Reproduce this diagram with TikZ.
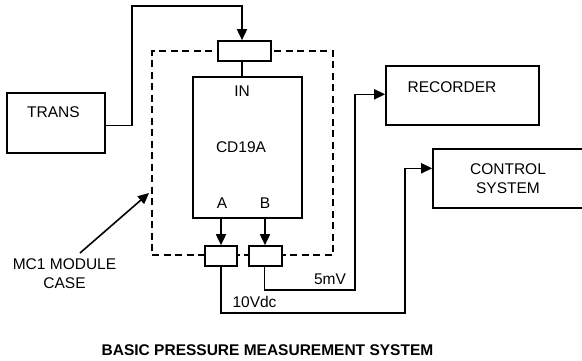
\documentclass[tikz,border=0pt]{standalone}
\usepackage{fontspec}
\setmainfont{Liberation Sans}
\usetikzlibrary{arrows.meta}
\begin{document}
\begin{tikzpicture}[x=1pt,y=-1pt,line width=1.6pt,
  box/.style={draw,fill=white,inner sep=0pt},
  txt/.style={inner sep=0pt,font=\fontsize{15.5}{18}\selectfont},
  arr/.style={-{Triangle[length=11pt,width=10pt]}},
  casebox/.style={draw,dash pattern=on 7pt off 4.5pt,inner sep=0pt}]
\useasboundingbox (0,0) rectangle (582,360);
\clip (0,0) rectangle (582,360);
% dashed module case
\node[casebox,minimum width=181pt,minimum height=204pt] (case) at (242.5,153) {};
% boxes
\node[box,minimum width=98pt,minimum height=60pt] (trans) at (56,123) {};
\node[box,minimum width=53pt,minimum height=20pt] (inbox) at (244.5,51) {};
\node[box,minimum width=109pt,minimum height=141pt] (cd) at (247.5,147.5) {};
\node[box,minimum width=32pt,minimum height=20pt] (boxa) at (221,256) {};
\node[box,minimum width=33pt,minimum height=20pt] (boxb) at (265.5,256) {};
\node[box,minimum width=153pt,minimum height=59pt] (rec) at (462.5,95.5) {};
\node[box,minimum width=150pt,minimum height=59pt] (ctrl) at (508,178.5) {};
% texts
\node[txt] (transt) at (53.5,112.5) {TRANS};
\node[txt] (int) at (242,91) {IN};
\node[txt] (cdt) at (241,147.5) {CD19A};
\node[txt] (at) at (222,203) {A};
\node[txt] (bt) at (265,203) {B};
\node[txt] (rect) at (452,87) {RECORDER};
\node[txt,align=center] (ctrlt) at (508,178.5) {CONTROL\\[1.5pt]SYSTEM};
\node[txt] (mvt) at (330,279) {5mV};
\node[txt] (vdct) at (254.5,302) {10Vdc};
\node[txt,align=center] (mct) at (64.5,273.5) {MC1 MODULE\\[1.5pt]CASE};
\node[txt,font=\fontsize{15.5}{18}\selectfont\bfseries] (title) at (267.5,350) {BASIC PRESSURE MEASUREMENT SYSTEM};
% connectors
\draw[arr] ([yshift=-2.5pt]trans.east) -- ++(26,0) |- ([xshift=-2.5pt]inbox.north |- 0,6) -- ([xshift=-2.5pt]inbox.north);
\draw ([xshift=-2.5pt]inbox.south) -- ([xshift=-2.5pt]inbox.south |- cd.north);
\draw[arr] (boxa.north |- cd.south) -- (boxa.north);
\draw[arr] ([xshift=-0.5pt]boxb.north |- cd.south) -- ([xshift=-0.5pt]boxb.north);
\coordinate (bturn) at (355,290);
\coordinate (aturn) at (405,313);
\draw[arr] ([xshift=-1pt]boxb.south) |- (bturn) |- ([yshift=1.2pt]rec.west);
\draw[arr] (boxa.south) |- (aturn) |- ([yshift=10.2pt]ctrl.west);
\coordinate (mcs) at (80,253);
\coordinate (mce) at (149,193);
\draw[arr] (mcs) -- (mce);
\end{tikzpicture}
\end{document}
